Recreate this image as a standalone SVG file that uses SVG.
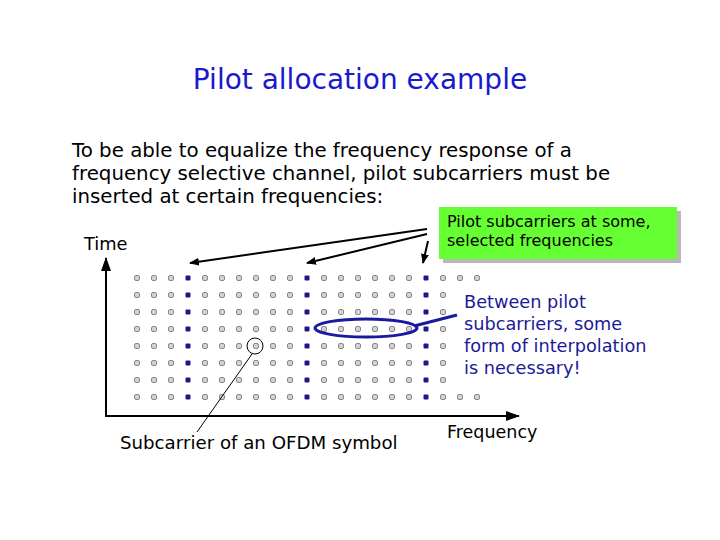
<svg xmlns="http://www.w3.org/2000/svg" width="720" height="540" viewBox="0 0 720 540">
<style>
text{font-family:"DejaVu Sans",Verdana,sans-serif}
.d{fill:#d4d4d4;stroke:#888;stroke-width:1}
.p{fill:#1a1a80}
.a{stroke:#000;stroke-width:2;fill:none}
</style>
<defs>
<marker id="ar" markerWidth="10" markerHeight="8" refX="9" refY="4" orient="auto" markerUnits="userSpaceOnUse"><path d="M0,0L10,4L0,8z" fill="#000"/></marker>
<marker id="ar2" markerWidth="14" markerHeight="10" refX="13" refY="5" orient="auto" markerUnits="userSpaceOnUse"><path d="M0,0L14,5L0,10z" fill="#000"/></marker>
<g id="dot"><rect x="-2.5" y="-2.5" width="5" height="5" rx="1.5" class="d"/></g>
<g id="pil"><rect x="-2.5" y="-2.5" width="5" height="5" rx="1" class="p"/></g>
</defs>
<rect width="720" height="540" fill="#fff"/>
<text x="360" y="89" text-anchor="middle" font-size="28" fill="#1a1acc">Pilot allocation example</text>
<g id="intro" font-size="19.8" fill="#000">
<text x="72" y="157">To be able to equalize the frequency response of a</text>
<text x="72" y="180">frequency selective channel, pilot subcarriers must be</text>
<text x="72" y="203">inserted at certain frequencies:</text>
</g>
<g id="grid">
<g id="r1"><use href="#dot" x="137" y="278"/><use href="#dot" x="154" y="278"/><use href="#dot" x="171" y="278"/><use href="#pil" x="188" y="278"/><use href="#dot" x="205" y="278"/><use href="#dot" x="222" y="278"/><use href="#dot" x="239" y="278"/><use href="#dot" x="256" y="278"/><use href="#dot" x="273" y="278"/><use href="#dot" x="290" y="278"/><use href="#pil" x="307" y="278"/><use href="#dot" x="324" y="278"/><use href="#dot" x="341" y="278"/><use href="#dot" x="358" y="278"/><use href="#dot" x="375" y="278"/><use href="#dot" x="392" y="278"/><use href="#dot" x="409" y="278"/><use href="#pil" x="426" y="278"/><use href="#dot" x="443" y="278"/><use href="#dot" x="460" y="278"/><use href="#dot" x="477" y="278"/></g>
<g id="rmid">
<g><use href="#dot" x="137" y="295"/><use href="#dot" x="154" y="295"/><use href="#dot" x="171" y="295"/><use href="#pil" x="188" y="295"/><use href="#dot" x="205" y="295"/><use href="#dot" x="222" y="295"/><use href="#dot" x="239" y="295"/><use href="#dot" x="256" y="295"/><use href="#dot" x="273" y="295"/><use href="#dot" x="290" y="295"/><use href="#pil" x="307" y="295"/><use href="#dot" x="324" y="295"/><use href="#dot" x="341" y="295"/><use href="#dot" x="358" y="295"/><use href="#dot" x="375" y="295"/><use href="#dot" x="392" y="295"/><use href="#dot" x="409" y="295"/><use href="#pil" x="426" y="295"/><use href="#dot" x="443" y="295"/></g>
<g><use href="#dot" x="137" y="312"/><use href="#dot" x="154" y="312"/><use href="#dot" x="171" y="312"/><use href="#pil" x="188" y="312"/><use href="#dot" x="205" y="312"/><use href="#dot" x="222" y="312"/><use href="#dot" x="239" y="312"/><use href="#dot" x="256" y="312"/><use href="#dot" x="273" y="312"/><use href="#dot" x="290" y="312"/><use href="#pil" x="307" y="312"/><use href="#dot" x="324" y="312"/><use href="#dot" x="341" y="312"/><use href="#dot" x="358" y="312"/><use href="#dot" x="375" y="312"/><use href="#dot" x="392" y="312"/><use href="#dot" x="409" y="312"/><use href="#pil" x="426" y="312"/><use href="#dot" x="443" y="312"/></g>
<g><use href="#dot" x="137" y="329"/><use href="#dot" x="154" y="329"/><use href="#dot" x="171" y="329"/><use href="#pil" x="188" y="329"/><use href="#dot" x="205" y="329"/><use href="#dot" x="222" y="329"/><use href="#dot" x="239" y="329"/><use href="#dot" x="256" y="329"/><use href="#dot" x="273" y="329"/><use href="#dot" x="290" y="329"/><use href="#pil" x="307" y="329"/><use href="#dot" x="324" y="329"/><use href="#dot" x="341" y="329"/><use href="#dot" x="358" y="329"/><use href="#dot" x="375" y="329"/><use href="#dot" x="392" y="329"/><use href="#dot" x="409" y="329"/><use href="#pil" x="426" y="329"/><use href="#dot" x="443" y="329"/></g>
<g><use href="#dot" x="137" y="346"/><use href="#dot" x="154" y="346"/><use href="#dot" x="171" y="346"/><use href="#pil" x="188" y="346"/><use href="#dot" x="205" y="346"/><use href="#dot" x="222" y="346"/><use href="#dot" x="239" y="346"/><use href="#dot" x="256" y="346"/><use href="#dot" x="273" y="346"/><use href="#dot" x="290" y="346"/><use href="#pil" x="307" y="346"/><use href="#dot" x="324" y="346"/><use href="#dot" x="341" y="346"/><use href="#dot" x="358" y="346"/><use href="#dot" x="375" y="346"/><use href="#dot" x="392" y="346"/><use href="#dot" x="409" y="346"/><use href="#pil" x="426" y="346"/><use href="#dot" x="443" y="346"/></g>
<g><use href="#dot" x="137" y="363"/><use href="#dot" x="154" y="363"/><use href="#dot" x="171" y="363"/><use href="#pil" x="188" y="363"/><use href="#dot" x="205" y="363"/><use href="#dot" x="222" y="363"/><use href="#dot" x="239" y="363"/><use href="#dot" x="256" y="363"/><use href="#dot" x="273" y="363"/><use href="#dot" x="290" y="363"/><use href="#pil" x="307" y="363"/><use href="#dot" x="324" y="363"/><use href="#dot" x="341" y="363"/><use href="#dot" x="358" y="363"/><use href="#dot" x="375" y="363"/><use href="#dot" x="392" y="363"/><use href="#dot" x="409" y="363"/><use href="#pil" x="426" y="363"/><use href="#dot" x="443" y="363"/></g>
<g><use href="#dot" x="137" y="380"/><use href="#dot" x="154" y="380"/><use href="#dot" x="171" y="380"/><use href="#pil" x="188" y="380"/><use href="#dot" x="205" y="380"/><use href="#dot" x="222" y="380"/><use href="#dot" x="239" y="380"/><use href="#dot" x="256" y="380"/><use href="#dot" x="273" y="380"/><use href="#dot" x="290" y="380"/><use href="#pil" x="307" y="380"/><use href="#dot" x="324" y="380"/><use href="#dot" x="341" y="380"/><use href="#dot" x="358" y="380"/><use href="#dot" x="375" y="380"/><use href="#dot" x="392" y="380"/><use href="#dot" x="409" y="380"/><use href="#pil" x="426" y="380"/><use href="#dot" x="443" y="380"/></g>
</g>
<g id="r8"><use href="#dot" x="137" y="397"/><use href="#dot" x="154" y="397"/><use href="#dot" x="171" y="397"/><use href="#pil" x="188" y="397"/><use href="#dot" x="205" y="397"/><use href="#dot" x="222" y="397"/><use href="#dot" x="239" y="397"/><use href="#dot" x="256" y="397"/><use href="#dot" x="273" y="397"/><use href="#dot" x="290" y="397"/><use href="#pil" x="307" y="397"/><use href="#dot" x="324" y="397"/><use href="#dot" x="341" y="397"/><use href="#dot" x="358" y="397"/><use href="#dot" x="375" y="397"/><use href="#dot" x="392" y="397"/><use href="#dot" x="409" y="397"/><use href="#pil" x="426" y="397"/><use href="#dot" x="443" y="397"/><use href="#dot" x="460" y="397"/><use href="#dot" x="477" y="397"/></g>
</g>
<g id="axes">
<line x1="106" y1="417" x2="106" y2="258" class="a" marker-end="url(#ar2)"/>
<line x1="105" y1="416" x2="519" y2="416" class="a" marker-end="url(#ar2)"/>
<text x="84" y="250" font-size="17.8">Time</text>
<text x="447" y="438" font-size="17.5">Frequency</text>
</g>
<g id="pilot-box">
<rect x="443" y="211" width="238" height="52" fill="#888" opacity="0.6"/>
<rect x="439" y="207" width="238" height="52" fill="#66ff33"/>
<text x="447" y="227" font-size="16">Pilot subcarriers at some,</text>
<text x="447" y="246" font-size="16">selected frequencies</text>
</g>
<g id="interp-note" fill="#1a1a99" font-size="17.7">
<text x="464" y="308">Between pilot</text>
<text x="464" y="330">subcarriers, some</text>
<text x="464" y="352">form of interpolation</text>
<text x="464" y="374">is necessary!</text>
</g>
<g id="subcarrier-note">
<circle cx="255" cy="346" r="8" fill="none" stroke="#000" stroke-width="1"/>
<text x="120" y="449" font-size="18.2">Subcarrier of an OFDM symbol</text>
</g>
<g id="connectors">
<line x1="427" y1="229" x2="190" y2="263" class="a" marker-end="url(#ar)"/>
<line x1="427" y1="234" x2="307" y2="263" class="a" marker-end="url(#ar)"/>
<line x1="428" y1="241" x2="423" y2="263" class="a" marker-end="url(#ar)"/>
<ellipse cx="366" cy="328" rx="51" ry="9" fill="none" stroke="#1a1aa0" stroke-width="3"/>
<line x1="414" y1="326" x2="457" y2="315" stroke="#1a1aa0" stroke-width="3"/>
<line x1="252" y1="354" x2="197" y2="432" stroke="#000" stroke-width="1"/>
</g>
</svg>
